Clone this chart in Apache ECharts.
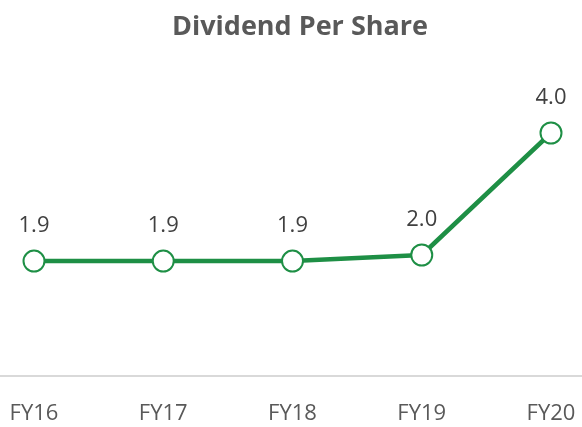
<!DOCTYPE html>
<html>
<head>
<meta charset="utf-8">
<script src="https://cdn.jsdelivr.net/npm/echarts@6/dist/echarts.min.js"></script>
<style>
  html, body { margin: 0; padding: 0; background: #fff; }
  #chart1 { width: 582px; height: 427px; }
</style>
</head>
<body>
<div id="chart1"></div>
<script>
var categories = ['FY16', 'FY17', 'FY18', 'FY19', 'FY20']
var dividends = [1.9, 1.9, 1.9, 2.0, 4.0]

var chart1 = echarts.init(document.getElementById('chart1'))
var option = {
  animation: false,
  title: {
    text: 'Dividend Per Share',
    left: 167,
    top: 9,
    textStyle: {
      color: '#595959',
      fontFamily: 'Open Sans',
      fontWeight: 'bold',
      fontSize: 27
    }
  },
  grid: [
    { left: 34, right: 31, top: 72, bottom: 50 },
    // full-width grid only for the baseline
    { left: 0, right: 0, top: 72, bottom: 51.5 }
  ],
  xAxis: [
    {
      type: 'category',
      gridIndex: 0,
      data: categories,
      boundaryGap: false,
      axisLine: { show: false },
      axisTick: { show: false },
      axisLabel: {
        color: '#595959',
        fontFamily: 'Open Sans',
        fontSize: 22,
        margin: 26
      }
    },
    {
      type: 'category',
      gridIndex: 1,
      data: categories,
      axisLine: {
        lineStyle: { color: '#d9d9d9', width: 2 }
      },
      axisTick: { show: false },
      axisLabel: { show: false }
    }
  ],
  yAxis: [
    { type: 'value', gridIndex: 0, min: 0, max: 5, show: false },
    { type: 'value', gridIndex: 1, min: 0, max: 5, show: false }
  ],
  series: [
    {
      type: 'line',
      xAxisIndex: 0,
      yAxisIndex: 0,
      data: dividends,
      symbol: 'circle',
      symbolSize: 21,
      z: 3,
      lineStyle: { color: '#1e8f45', width: 4.5 },
      itemStyle: { color: '#fff', borderColor: '#1e8f45', borderWidth: 2 },
      label: {
        show: true,
        position: 'top',
        distance: 13,
        color: '#404040',
        fontFamily: 'Open Sans',
        fontSize: 22,
        formatter: function (p) {
          return p.value.toFixed(1)
        }
      }
    }
  ]
}
chart1.setOption(option)
</script>
</body>
</html>
